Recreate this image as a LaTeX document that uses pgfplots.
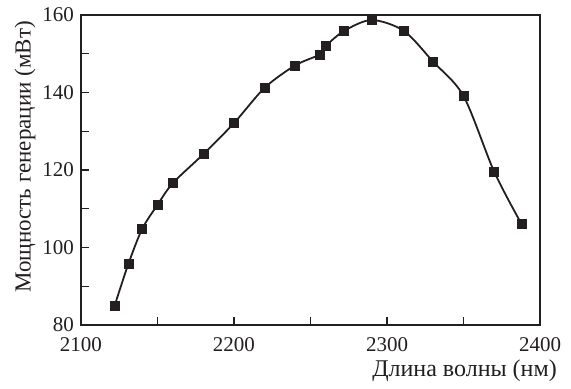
\documentclass[border=0pt]{standalone}
\usepackage{pgfplots}
\pgfplotsset{compat=1.18}
\usepackage{fontspec}
\setmainfont{Liberation Serif}
\definecolor{ink}{HTML}{231F20}
\begin{document}
\begin{tikzpicture}
\fontsize{21}{25}\selectfont
\begin{axis}[
  name=ax,
  scale only axis,
  width=459pt, height=310pt,
  xmin=2100, xmax=2400, ymin=80, ymax=160,
  xtick={2100,2200,2300,2400},
  ytick={80,100,120,140,160},
  minor x tick num=1, minor y tick num=1,
  tick pos=left,
  tick align=inside,
  major tick length=8pt, minor tick length=8pt,
  every tick/.style={ink, line width=1.2pt},
  axis line style={ink, line width=1.2pt},
  /pgf/number format/assume math mode=true,
  /pgf/number format/1000 sep={},
  tick label style={font=\fontsize{21}{25}\selectfont, text=ink},
  xticklabel style={yshift=-5pt},
  label style={font=\fontsize{24}{28}\selectfont, text=ink},
  xlabel={Длина волны (нм)},
  ylabel={Мощность генерации (мВт)},
  xlabel style={at={(rel axis cs:1,0)}, anchor=east, xshift=24pt, yshift=-46pt},
  ylabel style={at={(rel axis cs:0,0.5)}, anchor=center, yshift=56pt, xshift=13pt,
    font=\fontsize{23}{27}\selectfont},
]
\addplot[ink, line width=1.8pt, smooth, tension=0.5, mark=square*, mark size=4.5pt,
  mark options={fill=ink, draw=ink, line width=0.5pt}] coordinates {
 (2122,85.0) (2131,95.8) (2140,104.8) (2150,111.0) (2160,116.6)
 (2180,124.1) (2200,132.1) (2220,141.2) (2240,147.0) (2256,149.8)
 (2260,152.0) (2272,155.9) (2290,158.7) (2311,155.9) (2330,148.0)
 (2350,139.1) (2370,119.6) (2388,106.0)
};
\end{axis}
\path ([shift={(-81pt,-58pt)}]ax.south west) rectangle ([shift={(31pt,15pt)}]ax.north east);
\end{tikzpicture}
\end{document}
